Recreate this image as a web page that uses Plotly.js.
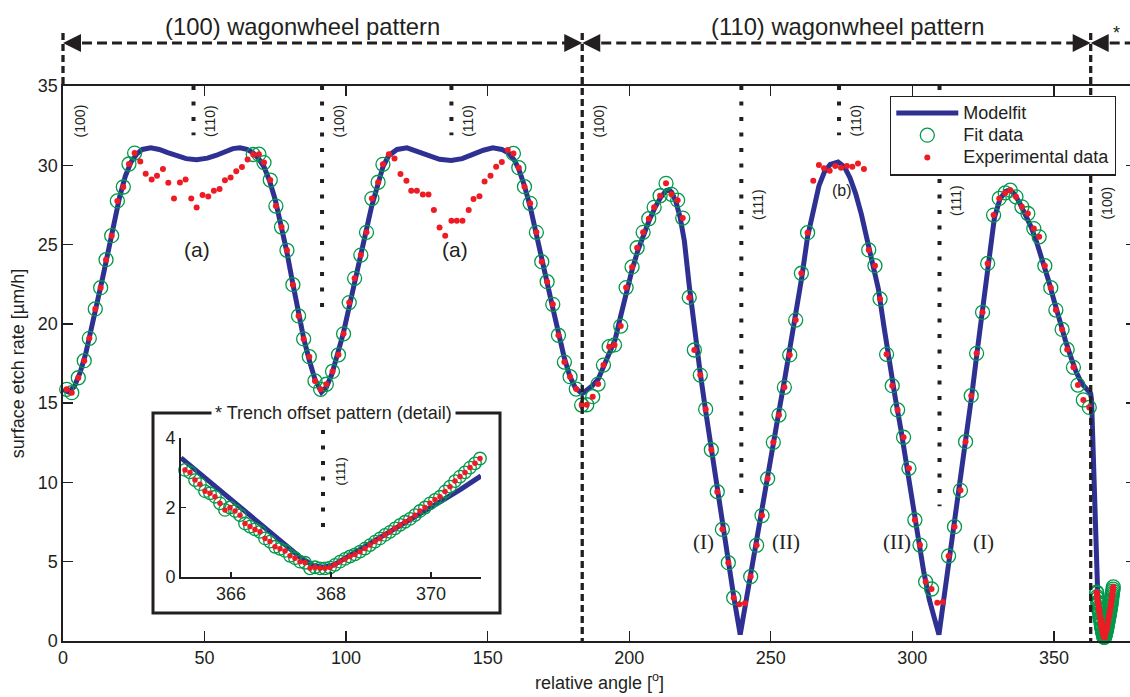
<!DOCTYPE html>
<html>
<head>
<meta charset="utf-8">
<script src="https://cdn.plot.ly/plotly-3.0.1.min.js"></script>
<style>
  html, body { margin: 0; padding: 0; overflow: hidden; background: #fff; }
  #chart { width: 1137px; height: 697px; }
</style>
</head>
<body>
<div id="chart"></div>
<script>
// ---------------------------------------------------------------------------
// Surface etch rate versus relative angle (wagonwheel etch experiment)
// ---------------------------------------------------------------------------

// Measured points that were used for the model fit
const fitAngle = [
  1.3, 3.1, 5.4, 7.5, 9.3, 11.4, 13.3, 15.2, 17.2, 19.2, 21.3, 23.3, 25.3,
  67.2, 69.2, 71.0, 73.2, 75.2, 77.2, 79.1, 81.2, 83.2, 85.0, 87.0, 89.0, 91.0,
  93.0, 95.2, 97.3, 99.1, 101.1, 103.0, 105.2, 107.2, 109.1, 111.3, 113.0,
  159.1, 161.0, 163.0, 165.0, 167.2, 169.1, 171.0, 173.0, 175.0, 177.1, 179.1,
  181.3, 183.2, 185.0, 187.1, 189.0, 190.9, 192.9, 194.8, 197.0, 198.9, 201.0,
  202.8, 204.9, 206.9, 208.8, 210.9, 213.0, 214.9, 217.1, 218.9, 221.2, 223.0,
  225.1, 227.0, 229.0, 231.1, 232.9, 235.0, 236.9,
  242.9, 245.0, 246.9, 248.9, 250.9, 252.9, 254.8, 256.7, 258.8, 260.8, 263.0,
  284.6, 286.8, 288.6, 290.9, 292.9, 294.8, 296.9, 298.8, 300.9, 302.7, 304.7, 306.8,
  312.8, 314.9, 317.0, 318.8, 320.8, 322.7, 324.8, 326.6, 328.7, 330.7, 332.8,
  334.6, 336.6, 338.7, 340.8, 342.9, 344.8, 346.8, 348.9, 350.7, 352.9, 354.7,
  356.9, 358.5, 360.4, 362.5
];
const fitRate = [
  15.87, 15.66, 16.6, 17.68, 19.09, 20.94, 22.28, 24.05, 25.56, 27.75, 28.63, 30.08, 30.77,
  30.68, 30.7, 30.17, 29.07, 27.43, 26.11, 24.64, 22.47, 20.5, 19.05, 17.93, 16.4, 15.87,
  16.19, 17.0, 18.05, 19.37, 21.34, 22.87, 24.34, 25.77, 27.9, 28.93, 30.06,
  30.75, 29.85, 28.65, 27.6, 25.77, 23.92, 22.66, 21.23, 19.28, 17.59, 16.67,
  15.89, 14.88, 14.9, 15.41, 16.2, 17.4, 18.56, 18.67, 19.86, 22.29, 23.59,
  24.8, 25.77, 26.63, 27.35, 28.08, 28.86, 28.17, 27.8, 26.67, 21.67, 18.35,
  16.77, 14.62, 12.06, 9.42, 7.04, 4.94, 2.73,
  4.06, 6.04, 7.91, 10.24, 12.53, 14.25, 16.0, 18.04, 20.24, 23.19, 25.75,
  24.66, 23.67, 21.57, 18.08, 16.1, 14.57, 12.85, 10.89, 7.63, 6.05, 3.74, 3.28,
  5.36, 7.21, 9.5, 12.57, 15.47, 18.14, 20.73, 23.81, 26.86, 27.91, 28.26,
  28.43, 28.01, 27.38, 26.96, 26.01, 25.49, 23.67, 22.28, 20.87, 19.65, 18.39,
  17.26, 16.14, 15.2, 14.73
];

// Measured points left out of the fit: regions (a), (b) and the valley floors
const extraAngle = [
  27.3, 29.2, 31.3, 33.2, 35.3, 37.2, 39.2, 41.3, 43.3, 45.3, 47.2, 49.3, 51.3,
  53.3, 55.3, 57.2, 59.2, 61.2, 63.2, 65.2,
  115.1, 117.1, 119.2, 121.3, 123.0, 125.0, 127.1, 129.1, 131.0, 133.0, 135.0,
  137.2, 139.1, 141.1, 143.3, 145.0, 147.1, 148.9, 151.0, 153.0, 155.0, 157.1,
  238.9, 240.9,
  265.0, 267.0, 268.8, 270.8, 272.8, 274.8, 276.9, 278.8, 280.8, 282.9,
  308.8, 310.8
];
const extraRate = [
  30.24, 29.47, 29.11, 29.34, 29.76, 28.9, 27.9, 28.92, 29.11, 27.9, 27.34, 28.13, 28.03,
  28.4, 28.5, 29.05, 29.23, 29.63, 29.89, 30.37,
  30.69, 30.43, 29.45, 29.03, 28.4, 28.4, 28.15, 28.15, 27.18, 26.07, 25.56,
  26.5, 26.5, 26.5, 27.18, 27.87, 28.04, 28.97, 29.34, 29.91, 30.2, 30.96,
  2.31, 2.38,
  29.03, 30.02, 29.81, 29.66, 29.95, 29.85, 29.95, 29.91, 30.12, 29.76,
  2.42, 2.46
];

// Trench offset pattern (dense scan, also shown in the detail panel)
const trenchAngle = [
  365.08, 365.18, 365.28, 365.38, 365.48, 365.58, 365.68, 365.78, 365.88, 365.98,
  366.08, 366.18, 366.28, 366.38, 366.48, 366.58, 366.68, 366.78, 366.88, 366.98,
  367.08, 367.18, 367.28, 367.38, 367.48, 367.58, 367.68, 367.78, 367.88, 367.98,
  368.08, 368.18, 368.28, 368.38, 368.48, 368.58, 368.68, 368.78, 368.88, 368.98,
  369.08, 369.18, 369.28, 369.38, 369.48, 369.58, 369.68, 369.78, 369.88, 369.98,
  370.08, 370.18, 370.28, 370.38, 370.48, 370.58, 370.68, 370.78, 370.88, 370.98
];
const trenchRate = [
  3.08, 3.01, 2.79, 2.67, 2.47, 2.41, 2.31, 2.12, 1.93, 2.00,
  1.90, 1.78, 1.54, 1.45, 1.37, 1.30, 1.11, 1.02, 0.87, 0.81,
  0.75, 0.61, 0.54, 0.44, 0.41, 0.25, 0.28, 0.25, 0.25, 0.27,
  0.35, 0.44, 0.52, 0.59, 0.65, 0.73, 0.82, 0.92, 1.02, 1.11,
  1.21, 1.30, 1.40, 1.50, 1.59, 1.67, 1.78, 1.90, 2.00, 2.12,
  2.22, 2.31, 2.46, 2.60, 2.76, 2.89, 3.01, 3.15, 3.27, 3.41
];

// Model fit curve
const modelAngle = [
  0, 2, 4, 6, 8, 10, 12, 14, 16, 18, 20, 22, 24, 26, 28, 31, 34, 37, 40, 43.5,
  47.2, 51, 54, 57, 60, 62.5, 65, 67, 69, 71, 73, 75, 77, 79, 81, 83, 85, 87, 89,
  91.3, 93, 95, 97, 99, 101, 103, 105, 107, 109, 111, 113, 115, 118, 121.5, 125,
  129, 133, 137.1, 141, 145, 148.5, 151.8, 155, 157.5, 159.5, 161, 163, 165, 167,
  169, 171, 173, 175, 177, 179, 181, 183.4, 185, 187, 189, 191, 193, 195, 197,
  199, 201, 203, 205, 207, 209, 211, 213, 214, 215, 216.5, 218, 219.5, 221.2,
  223, 225, 227, 229, 231, 233, 235, 237, 239.2, 241, 243, 245, 247, 249, 251,
  253, 255, 257, 259, 261, 263, 265, 267, 269, 271, 273.8, 276, 278, 280, 282,
  284, 286, 288, 290, 292, 294, 296, 298, 300, 302, 304, 306, 308, 309.4, 311,
  313, 315, 317, 319, 321, 323, 325, 327, 329, 331, 333, 334.5, 336, 338, 340,
  342, 344, 346, 348, 350, 352, 354, 356, 358, 360, 362, 363.0, 363.3
];
const modelRate = [
  15.85, 15.7, 16.05, 16.9, 18.1, 19.6, 21.2, 22.9, 24.6, 26.5, 28.0, 29.3, 30.2, 30.7, 31.0, 31.1, 31.0, 30.8, 30.6, 30.42,
  30.35, 30.45, 30.62, 30.85, 31.05, 31.1, 31.0, 30.8, 30.45, 29.9, 29.0, 27.8, 26.3, 24.6, 22.7, 20.8, 19.1, 17.7, 16.5,
  15.7, 16.0, 16.85, 18.0, 19.4, 21.0, 22.7, 24.3, 25.8, 27.4, 28.8, 29.9, 30.6, 31.0, 31.1, 30.9,
  30.6, 30.38, 30.3, 30.42, 30.7, 30.95, 31.1, 31.0, 30.75, 30.3, 29.75, 28.7, 27.4, 25.9,
  24.2, 22.6, 21.0, 19.4, 17.9, 16.7, 15.95, 15.6, 15.8, 16.1, 16.5, 17.3, 18.1, 19.0, 20.5,
  22.1, 23.4, 24.6, 25.6, 26.5, 27.3, 27.95, 28.4, 28.45, 28.3, 27.7, 26.7, 25.2, 22.4,
  19.6, 17.0, 14.5, 12.1, 9.7, 7.3, 5.0, 2.7, 0.4, 2.3, 4.4, 6.4, 8.4, 10.5, 12.6,
  14.6, 16.6, 18.7, 20.8, 23.0, 25.5, 27.3, 28.7, 29.6, 30.05, 30.2, 29.9, 29.2, 28.2, 26.9,
  25.4, 23.9, 22.2, 19.8, 17.4, 15.3, 13.3, 11.2, 8.9, 6.6, 4.4, 2.6, 1.3, 0.4, 2.5,
  5.0, 7.5, 10.0, 12.6, 15.5, 18.4, 21.1, 24.3, 26.7, 27.9, 28.35, 28.45, 28.2, 27.6, 26.9,
  26.1, 25.1, 24.0, 22.8, 21.5, 20.2, 19.0, 17.9, 16.9, 16.2, 15.8, 15.6, 15.2
];
const trenchModelAngle = [365.0, 365.5, 366.0, 366.5, 367.0, 367.4, 367.65, 367.85, 368.05, 368.3, 368.7, 369.2, 369.7, 370.2, 370.6, 371.0];
const trenchModelRate  = [3.43, 2.83, 2.22, 1.62, 1.02, 0.55, 0.33, 0.28, 0.34, 0.55, 0.88, 1.32, 1.76, 2.18, 2.53, 2.91];

// Crystal planes along the scan and the pattern boundaries
const planeAngles = [0, 46.1, 91.5, 137.2, 183.4, 239.6, 274.1, 309.6, 363.0];
const planeLabels = ['(100)', '(110)', '(100)', '(110)', '(100)', '(111)', '(110)', '(111)', '(100)'];
const patternTitles = ['(100) wagonwheel pattern', '(110) wagonwheel pattern'];
const insetPlaneAngle = 367.84;
const insetPlaneLabel = '(111)';

// Axis ticks
const xTicks = [0, 50, 100, 150, 200, 250, 300, 350];
const yTicks = [0, 5, 10, 15, 20, 25, 30, 35];
const insetXTicks = [366, 368, 370];
const insetYTicks = [0, 2, 4];

// Series names
const seriesNames = ['Modelfit', 'Fit data', 'Experimental data'];

// ---------------------------------------------------------------------------
// Styling and page geometry
// ---------------------------------------------------------------------------
const INK = '#231f20';
const BLUE = '#2e3192';
const GREEN = '#00994a';
const RED = '#ed1c24';
const FONT = 'Liberation Sans, Arial, Helvetica, sans-serif';
const SERIF = 'Liberation Serif, Times New Roman, serif';

const W = 1137, H = 697;
const M = { l: 63, r: 1, t: 86, b: 56 };
const PW = W - M.l - M.r, PH = H - M.t - M.b;
const XR = [0, 379], YR = [0, 35];

// pixel -> paper helpers for decorations drawn around the plot
const X = px => (px - M.l) / PW;
const Y = py => (H - M.b - py) / PH;
const angPx = a => M.l + (a - XR[0]) / (XR[1] - XR[0]) * PW;
const angP = a => X(angPx(a));
const rateP = v => (v - YR[0]) / (YR[1] - YR[0]);

// detail panel placement (pixels)
const inset = { x0: 181, x1: 481, yTop: 438, yBot: 577 };
const frame = { x0: 153, x1: 500, y0: 413, y1: 613 };

// legend entries: 18px text on a tighter row pitch
const legendName = s => '<span style="font-size:18px">' + s + '</span>';

// merged experimental series
const expPairs = fitAngle.map((a, i) => [a, fitRate[i]])
  .concat(extraAngle.map((a, i) => [a, extraRate[i]]))
  .sort((p, q) => p[0] - q[0]);
const expAngle = expPairs.map(p => p[0]).concat(trenchAngle);
const expRate = expPairs.map(p => p[1]).concat(trenchRate);

const traces = [
  {
    name: legendName(seriesNames[0]), type: 'scatter', mode: 'lines',
    x: modelAngle.concat(trenchModelAngle), y: modelRate.concat(trenchModelRate),
    line: { color: BLUE, width: 5 }, xaxis: 'x', yaxis: 'y'
  },
  {
    name: legendName(seriesNames[1]), type: 'scatter', mode: 'markers', cliponaxis: false,
    x: fitAngle.concat(trenchAngle), y: fitRate.concat(trenchRate),
    marker: { symbol: 'circle-open', size: 14, color: GREEN, line: { width: 1.3, color: GREEN } },
    xaxis: 'x', yaxis: 'y'
  },
  {
    name: legendName(seriesNames[2]), type: 'scatter', mode: 'markers', cliponaxis: false,
    x: expAngle, y: expRate,
    marker: { symbol: 'circle', size: 6, color: RED },
    xaxis: 'x', yaxis: 'y'
  },
  // detail panel
  {
    showlegend: false, type: 'scatter', mode: 'lines',
    x: trenchModelAngle, y: trenchModelRate,
    line: { color: BLUE, width: 5 }, xaxis: 'x2', yaxis: 'y2'
  },
  {
    showlegend: false, type: 'scatter', mode: 'markers', cliponaxis: false,
    x: trenchAngle, y: trenchRate,
    marker: { symbol: 'circle-open', size: 12.5, color: GREEN, line: { width: 1.3, color: GREEN } },
    xaxis: 'x2', yaxis: 'y2'
  },
  {
    showlegend: false, type: 'scatter', mode: 'markers', cliponaxis: false,
    x: trenchAngle, y: trenchRate,
    marker: { symbol: 'circle', size: 5.5, color: RED },
    xaxis: 'x2', yaxis: 'y2'
  }
];

// ---------------------------------------------------------------------------
// Shapes: pattern arrows, plane markers, detail frame
// ---------------------------------------------------------------------------
const shapes = [];
const annotations = [];
const arrowY = 43, boundTop = 33;
const DASH = '7px,4px';
const DOTS = '4px,11.5px';

function triangle(tipPx, dir) {
  const L = 18, h = 9, base = tipPx - dir * L;
  return 'M' + X(tipPx) + ',' + Y(arrowY) +
         ' L' + X(base) + ',' + Y(arrowY - h) +
         ' L' + X(base) + ',' + Y(arrowY + h) + ' Z';
}

// pattern boundaries are the planes at index 0, 4 and 8
const bounds = [planeAngles[0], planeAngles[4], planeAngles[8]];
bounds.forEach((a, k) => {
  shapes.push({
    type: 'line', xref: 'paper', yref: 'paper', layer: 'above',
    x0: angP(a), x1: angP(a), y0: Y(boundTop), y1: k === 0 ? 1 : 0,
    line: { color: INK, width: 3.3, dash: DASH }
  });
});
// horizontal arrows between boundaries, plus the open-ended one at the right
const spans = [[bounds[0], bounds[1]], [bounds[1], bounds[2]]];
spans.forEach(s => {
  const p0 = angPx(s[0]), p1 = angPx(s[1]);
  shapes.push({
    type: 'line', xref: 'paper', yref: 'paper', layer: 'above',
    x0: X(p0 + 4), x1: X(p1 - 4), y0: Y(arrowY), y1: Y(arrowY),
    line: { color: INK, width: 3, dash: '10px,5px' }
  });
  shapes.push({ type: 'path', xref: 'paper', yref: 'paper', layer: 'above', path: triangle(p0, -1), fillcolor: INK, line: { width: 0 } });
  shapes.push({ type: 'path', xref: 'paper', yref: 'paper', layer: 'above', path: triangle(p1, 1), fillcolor: INK, line: { width: 0 } });
});
{
  const p0 = angPx(bounds[2]);
  shapes.push({
    type: 'line', xref: 'paper', yref: 'paper', layer: 'above',
    x0: X(p0 + 4), x1: X(W), y0: Y(arrowY), y1: Y(arrowY),
    line: { color: INK, width: 3, dash: '10px,5px' }
  });
  shapes.push({ type: 'path', xref: 'paper', yref: 'paper', layer: 'above', path: triangle(p0, -1), fillcolor: INK, line: { width: 0 } });
}

// dotted plane markers: [plane index, lower end of the marker in µm/h]
const dottedPlanes = [[1, 31.9], [2, 20.8], [3, 31.9], [5, 8.9], [6, 31.9], [7, 8.5]];
dottedPlanes.forEach(d => {
  const a = planeAngles[d[0]];
  shapes.push({
    type: 'line', xref: 'paper', yref: 'paper', layer: 'above',
    x0: angP(a), x1: angP(a), y0: 1, y1: rateP(d[1]),
    line: { color: INK, width: 4, dash: DOTS }
  });
});

// rotated plane labels, placed beside each marker (label height in µm/h)
const labelHeights = [32.8, 32.8, 32.8, 32.8, 32.8, 27.55, 32.8, 27.75, 27.6];
planeAngles.forEach((a, i) => {
  annotations.push({
    xref: 'x', yref: 'y', x: a, y: labelHeights[i], xshift: 16.5,
    text: planeLabels[i], textangle: -90, showarrow: false,
    font: { family: FONT, size: 14, color: INK }, xanchor: 'center', yanchor: 'middle'
  });
});

// pattern titles above the arrows
annotations.push({
  xref: 'paper', yref: 'paper', x: X(302.5), y: Y(27), text: patternTitles[0],
  showarrow: false, font: { family: FONT, size: 23.8, color: INK }, xanchor: 'center', yanchor: 'middle'
});
annotations.push({
  xref: 'paper', yref: 'paper', x: X(847.5), y: Y(27), text: patternTitles[1],
  showarrow: false, font: { family: FONT, size: 23.8, color: INK }, xanchor: 'center', yanchor: 'middle'
});
annotations.push({
  xref: 'paper', yref: 'paper', x: X(1116), y: Y(33), text: '*',
  showarrow: false, font: { family: FONT, size: 18, color: INK }, xanchor: 'center', yanchor: 'middle'
});

// region labels
const regionNotes = [
  { x: 47.5, y: 24.66, t: '(a)', f: FONT, s: 21 },
  { x: 138.5, y: 24.72, t: '(a)', f: FONT, s: 21 },
  { x: 275.1, y: 28.41, t: '(b)', f: FONT, s: 16 },
  { x: 226.1, y: 6.26, t: '(I)', f: SERIF, s: 21 },
  { x: 255.4, y: 6.26, t: '(II)', f: SERIF, s: 21 },
  { x: 294.6, y: 6.26, t: '(II)', f: SERIF, s: 21 },
  { x: 325.0, y: 6.26, t: '(I)', f: SERIF, s: 21 }
];
regionNotes.forEach(n => annotations.push({
  xref: 'x', yref: 'y', x: n.x, y: n.y, text: n.t, showarrow: false,
  font: { family: n.f, size: n.s, color: INK }, xanchor: 'center', yanchor: 'middle'
}));

// detail panel frame, title and its (111) marker
shapes.push({
  type: 'rect', xref: 'paper', yref: 'paper', layer: 'below',
  x0: X(frame.x0), x1: X(frame.x1), y0: Y(frame.y1), y1: Y(frame.y0),
  fillcolor: '#ffffff', line: { color: INK, width: 3 }
});
annotations.push({
  xref: 'paper', yref: 'paper', x: X(333), y: Y(frame.y0), text: '* Trench offset pattern (detail)',
  showarrow: false, bgcolor: '#ffffff', borderpad: 3,
  font: { family: FONT, size: 18, color: INK }, xanchor: 'center', yanchor: 'middle'
});
const insetPx = a => inset.x0 + (a - 365) / (371 - 365) * (inset.x1 - inset.x0);
shapes.push({
  type: 'line', xref: 'paper', yref: 'paper', layer: 'above',
  x0: X(insetPx(insetPlaneAngle)), x1: X(insetPx(insetPlaneAngle)), y0: Y(430), y1: Y(528),
  line: { color: INK, width: 4, dash: DOTS }
});
annotations.push({
  xref: 'paper', yref: 'paper', x: X(insetPx(insetPlaneAngle) + 16.5), y: Y(471),
  text: insetPlaneLabel, textangle: -90, showarrow: false,
  font: { family: FONT, size: 13, color: INK }, xanchor: 'center', yanchor: 'middle'
});

// ---------------------------------------------------------------------------
// Layout
// ---------------------------------------------------------------------------
const axisCommon = {
  showgrid: false, zeroline: false, showline: true, linecolor: INK, linewidth: 1.6,
  ticks: 'inside', tickcolor: INK, tickwidth: 1.3,
  tickfont: { family: FONT, size: 18, color: INK }
};

const layout = {
  width: W, height: H,
  margin: M,
  paper_bgcolor: '#ffffff', plot_bgcolor: '#ffffff',
  font: { family: FONT, color: INK },
  showlegend: true,
  legend: {
    x: X(890), y: Y(95.5), xanchor: 'left', yanchor: 'top',
    bgcolor: '#ffffff', bordercolor: INK, borderwidth: 1.3,
    font: { family: FONT, size: 14.8, color: INK },
    itemwidth: 62, tracegroupgap: 0
  },
  xaxis: Object.assign({}, axisCommon, {
    domain: [0, 1], range: XR, tickvals: xTicks, ticklen: 10, mirror: 'ticks',
    title: { text: 'relative angle [<sup>o</sup>]', font: { family: FONT, size: 18, color: INK }, standoff: 9 }
  }),
  yaxis: Object.assign({}, axisCommon, {
    domain: [0, 1], range: YR, tickvals: yTicks, ticklen: 10, mirror: 'ticks',
    title: { text: 'surface etch rate [µm/h]', font: { family: FONT, size: 18, color: INK }, standoff: 8 }
  }),
  xaxis2: Object.assign({}, axisCommon, {
    domain: [X(inset.x0), X(inset.x1)], range: [365, 371], anchor: 'y2',
    tickvals: insetXTicks, ticklen: 5, linewidth: 1.8
  }),
  yaxis2: Object.assign({}, axisCommon, {
    domain: [Y(inset.yBot), Y(inset.yTop)], range: [0, 4], anchor: 'x2',
    tickvals: insetYTicks, ticklen: 5, linewidth: 1.8
  }),
  shapes: shapes,
  annotations: annotations
};

Plotly.newPlot('chart', traces, layout, { displayModeBar: false, staticPlot: true });
</script>
</body>
</html>
